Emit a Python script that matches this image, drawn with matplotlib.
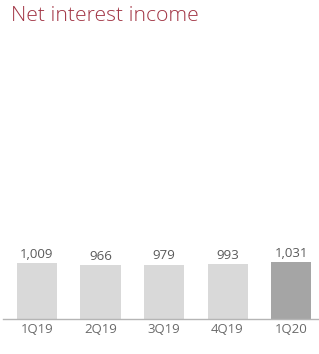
import matplotlib

matplotlib.use("Agg")
import matplotlib.pyplot as plt

# Net interest income by quarter
QUARTERS = ["1Q19", "2Q19", "3Q19", "4Q19", "1Q20"]
VALUES = [1009, 966, 979, 993, 1031]
LABELS = ["1,009", "966", "979", "993", "1,031"]

BAR_COLORS = ["#d9d9d9"] * 4 + ["#a5a5a5"]
TEXT_GREY = "#5a5a5a"
TITLE_RED = "#a23545"

plt.rcParams["font.family"] = ["Open Sans", "DejaVu Sans"]

fig = plt.figure(figsize=(3.19, 3.54), dpi=100)
fig.text(11 / 319, 1 - 16 / 354, "Net interest income", color=TITLE_RED,
         fontsize=15.2, va="center", ha="left", fontweight="light")

ax = fig.add_axes([3 / 319, 35 / 354, 316 / 319, 259 / 354])
x = range(len(QUARTERS))
ax.bar(x, VALUES, width=0.63, color=BAR_COLORS, zorder=2)
for xi, v, lab in zip(x, VALUES, LABELS):
    ax.text(xi, v + 40, lab, ha="center", va="bottom", fontsize=9.5, color=TEXT_GREY)

ax.set_xlim(-0.535, 4.44)
ax.set_ylim(0, 1009 * 259 / 56)
ax.set_xticks(list(x))
ax.set_xticklabels(QUARTERS, fontsize=9.5, color="#6a6a6a")
ax.tick_params(axis="x", length=0, pad=3)
ax.set_yticks([])
for side in ("top", "right", "left"):
    ax.spines[side].set_visible(False)
ax.spines["bottom"].set_color("#b5b5b5")
ax.spines["bottom"].set_linewidth(1.0)
ax.patch.set_alpha(0)

fig.savefig("out.png", dpi=100)
